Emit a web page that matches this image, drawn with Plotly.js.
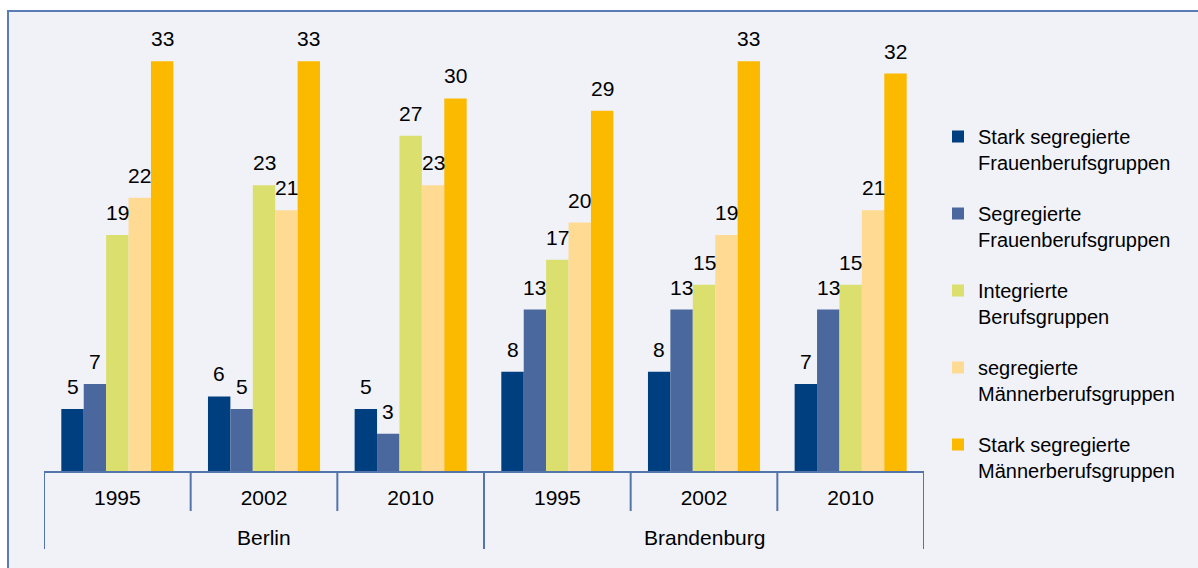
<!DOCTYPE html>
<html>
<head>
<meta charset="utf-8">
<script src="https://cdn.plot.ly/plotly-3.0.1.min.js"></script>
<style>
html,body{margin:0;padding:0;background:#ffffff;}
#chart{width:1198px;height:568px;}
</style>
</head>
<body>
<div id="chart"></div>
<script>
// ---- data ----
var regions = ["Berlin", "Brandenburg"];
var years = ["1995", "2002", "2010", "1995", "2002", "2010"];
var groupPositions = [0, 1, 2, 3, 4, 5];
var seriesNames = [
  "Stark segregierte<br>Frauenberufsgruppen",
  "Segregierte<br>Frauenberufsgruppen",
  "Integrierte<br>Berufsgruppen",
  "segregierte<br>Männerberufsgruppen",
  "Stark segregierte<br>Männerberufsgruppen"
];
var starkFrauen   = [5, 6, 5, 8, 8, 7];
var segFrauen     = [7, 5, 3, 13, 13, 13];
var integriert    = [19, 23, 27, 17, 15, 15];
var segMaenner    = [22, 21, 23, 20, 19, 21];
var starkMaenner  = [33, 33, 30, 29, 33, 32];
var seriesValues = [starkFrauen, segFrauen, integriert, segMaenner, starkMaenner];
var seriesColors = ["#003F7F", "#4A689E", "#DBDF6D", "#FFDA93", "#FBB900"];

// ---- layout helpers ----
var W = 1198, H = 568;
var mL = 44, mR = 274, mT = 20, mB = 97;
var pw = W - mL - mR, ph = H - mT - mB;
function px2x(p){ return (p - mL) / pw; }
function py2y(p){ return (H - mB - p) / ph; }

var font = "Liberation Sans, Arial, sans-serif";
var axisColor = "#5475AC";
var bargap = 0.236;
var nSeries = seriesValues.length;
var barW = (1 - bargap) / nSeries;

var traces = seriesValues.map(function(vals, i){
  return {
    type: "bar",
    name: seriesNames[i],
    x: groupPositions,
    y: vals,
    marker: {color: seriesColors[i], line: {width: 0}},
    legendgroup: "g" + i,
    hoverinfo: "y"
  };
});

var shapes = [];
// frame
shapes.push({type: "rect", xref: "paper", yref: "paper", layer: "below",
  x0: px2x(8), x1: px2x(1215), y0: py2y(585), y1: py2y(11),
  fillcolor: "#F0F2F8", line: {color: "#5B7DB5", width: 2}});
// dividers between years (short) and region bounds (long)
[0.5, 1.5, 3.5, 4.5].forEach(function(xv){
  shapes.push({type: "line", xref: "x", yref: "paper", x0: xv, x1: xv,
    y0: 0, y1: py2y(511), line: {color: axisColor, width: 2}});
});
[-0.5, 2.5, 5.5].forEach(function(xv){
  shapes.push({type: "line", xref: "x", yref: "paper", x0: xv, x1: xv,
    y0: 0, y1: py2y(549), line: {color: axisColor, width: 2}});
});

var annotations = [
  {xref: "x", yref: "paper", x: 1, y: py2y(537), text: regions[0], showarrow: false,
   font: {family: font, size: 21, color: "#000000"}, xanchor: "center", yanchor: "middle"},
  {xref: "x", yref: "paper", x: 4, y: py2y(537), text: regions[1], showarrow: false,
   font: {family: font, size: 21, color: "#000000"}, xanchor: "center", yanchor: "middle"}
];
// value labels above each bar (positioned in data coordinates)
seriesValues.forEach(function(vals, i){
  vals.forEach(function(v, g){
    annotations.push({
      xref: "x", yref: "y",
      x: groupPositions[g] + (i - (nSeries - 1) / 2) * barW,
      y: v, text: String(v), showarrow: false,
      xanchor: "center", yanchor: "bottom", yshift: 9,
      font: {family: font, size: 21, color: "#000000"}
    });
  });
});

var layout = {
  width: W, height: H,
  margin: {l: mL, r: mR, t: mT, b: mB, pad: 0},
  paper_bgcolor: "#ffffff",
  plot_bgcolor: "rgba(0,0,0,0)",
  barmode: "group",
  bargap: bargap,
  bargroupgap: 0,
  font: {family: font, size: 21, color: "#000000"},
  xaxis: {
    range: [-0.5, 5.5],
    tickmode: "array",
    tickvals: groupPositions,
    ticktext: years,
    ticks: "",
    showgrid: false,
    zeroline: false,
    showline: true,
    linecolor: axisColor,
    linewidth: 2,
    tickfont: {family: font, size: 21, color: "#000000"},
    ticklabelstandoff: 7,
    fixedrange: true
  },
  yaxis: {
    range: [0, ph / 12.42],
    showgrid: false,
    zeroline: false,
    showline: false,
    showticklabels: false,
    ticks: "",
    fixedrange: true
  },
  showlegend: true,
  legend: {
    x: px2x(938), xanchor: "left",
    y: py2y(117), yanchor: "top",
    bgcolor: "rgba(0,0,0,0)",
    font: {family: font, size: 20, color: "#000000"},
    tracegroupgap: 22,
    valign: "top",
    traceorder: "grouped",
    itemclick: false
  },
  shapes: shapes,
  annotations: annotations
};

Plotly.newPlot("chart", traces, layout, {displayModeBar: false, staticPlot: true});
</script>
</body>
</html>
